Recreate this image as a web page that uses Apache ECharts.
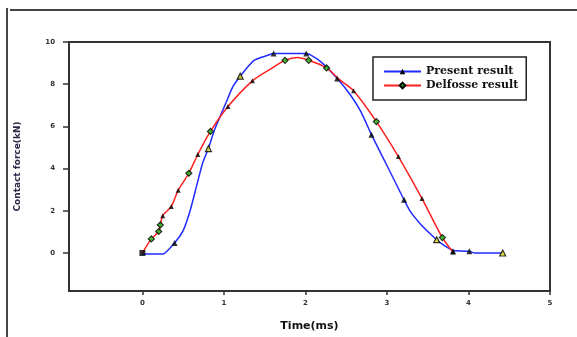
<!DOCTYPE html>
<html>
<head>
<meta charset="utf-8">
<script src="https://cdn.jsdelivr.net/npm/echarts@6/dist/echarts.min.js"></script>
<style>html,body{margin:0;padding:0;background:#fff}#c{width:577px;height:337px}</style>
</head>
<body>
<div id="c"></div>
<script>
// ---- data ----
const xTicks = [0, 1, 2, 3, 4, 5];
const yTicks = [0, 2, 4, 6, 8, 10];

const presentTime  = [0, 0.25, 0.395, 0.5, 0.58, 0.66, 0.74, 0.81, 0.885, 0.99, 1.05, 1.11, 1.2, 1.37, 1.54, 1.61, 2.01, 2.19, 2.39, 2.55, 2.68, 2.81, 2.98, 3.13, 3.21, 3.29, 3.41, 3.53, 3.61, 3.70, 3.78, 3.81, 4.01, 4.08, 4.42];
const presentForce = [-0.05, -0.05, 0.48, 1.06, 1.93, 3.1, 4.28, 4.95, 5.84, 6.8, 7.35, 7.88, 8.38, 9.13, 9.37, 9.45, 9.45, 9.06, 8.27, 7.5, 6.7, 5.61, 4.3, 3.14, 2.52, 1.95, 1.38, 0.91, 0.63, 0.36, 0.18, 0.12, 0.08, 0, 0];

const delfosseTime  = [0, 0.11, 0.2, 0.22, 0.25, 0.355, 0.44, 0.57, 0.68, 0.835, 1.05, 1.35, 1.58, 1.75, 1.9, 2.04, 2.26, 2.41, 2.59, 2.87, 3.14, 3.43, 3.68, 3.81];
const delfosseForce = [0, 0.67, 1.02, 1.33, 1.77, 2.21, 2.98, 3.78, 4.67, 5.76, 6.94, 8.16, 8.74, 9.13, 9.26, 9.13, 8.77, 8.24, 7.69, 6.23, 4.57, 2.58, 0.73, 0.05];

// markers on the present curve (black triangles / yellow-filled triangles)
const presentMarkT = [0.395, 1.61, 2.01, 2.39, 2.81, 3.21, 3.81, 4.01];
const presentMarkF = [0.48, 9.45, 9.45, 8.27, 5.61, 2.52, 0.08, 0.08];
const presentYellowT = [0.81, 1.2, 3.61, 4.42];
const presentYellowF = [4.95, 8.38, 0.63, 0];
// markers on the Delfosse curve
const delfosseGreenT = [0.11, 0.2, 0.22, 0.57, 0.835, 1.75, 2.04, 2.26, 2.87, 3.68];
const delfosseGreenF = [0.67, 1.02, 1.33, 3.78, 5.76, 9.13, 9.13, 8.77, 6.23, 0.73];
const delfosseBlackT = [0.25, 0.355, 0.44, 0.68, 1.05, 1.35, 2.59, 3.14, 3.43, 3.81];
const delfosseBlackF = [1.77, 2.21, 2.98, 4.67, 6.94, 8.16, 7.69, 4.57, 2.58, 0.05];
const startT = [0];
const startF = [0];

const zip = (a, b) => a.map((v, i) => [v, b[i]]);

const chart = echarts.init(document.getElementById('c'), null, {renderer: 'canvas'});
chart.setOption({
  animation: false,
  backgroundColor: '#fff',
  grid: {left: 69, right: 27, top: 42, bottom: 44, show: true, borderColor: '#333', borderWidth: 2},
  legend: {
    left: 373, top: 57, orient: 'vertical',
    itemWidth: 37, itemHeight: 7, itemGap: 3,
    padding: [9, 8, 9, 10],
    borderColor: '#222', borderWidth: 1.5, backgroundColor: '#fff',
    textStyle: {fontFamily: 'DejaVu Serif', fontWeight: 'bold', fontSize: 11, color: '#111'},
    data: ['Present result', 'Delfosse result']
  },
  xAxis: {
    type: 'value', min: -0.9, max: 5,
    name: 'Time(ms)', nameLocation: 'middle', nameGap: 30,
    nameTextStyle: {fontFamily: 'DejaVu Sans', fontWeight: 'bold', fontSize: 11, color: '#111'},
    axisLine: {show: true, onZero: false, lineStyle: {color: '#333', width: 2}},
    axisTick: {show: true, inside: false, length: 4, customValues: xTicks, lineStyle: {color: '#333', width: 1.5}},
    axisLabel: {customValues: xTicks, margin: 9, fontFamily: 'DejaVu Sans', fontWeight: 'bold', fontSize: 7, color: '#333'},
    splitLine: {show: false}
  },
  yAxis: {
    type: 'value', min: -1.8, max: 10,
    name: 'Contact force(kN)', nameLocation: 'middle', nameGap: 47, nameRotate: 90,
    nameTextStyle: {fontFamily: 'DejaVu Sans', fontWeight: 'bold', fontSize: 9, color: '#2a2a48'},
    axisLine: {show: true, onZero: false, lineStyle: {color: '#333', width: 2}},
    axisTick: {show: true, inside: false, length: 6, customValues: yTicks, lineStyle: {color: '#333', width: 1.5}},
    axisLabel: {customValues: yTicks, margin: 14, fontFamily: 'DejaVu Sans', fontWeight: 'bold', fontSize: 7, color: '#333'},
    splitLine: {show: false}
  },
  graphic: [
    {type: 'line', shape: {x1: 7, y1: 8, x2: 7, y2: 337}, style: {stroke: '#444', lineWidth: 2}, silent: true},
    {type: 'line', shape: {x1: 10, y1: 10, x2: 577, y2: 10}, style: {stroke: '#444', lineWidth: 2}, silent: true}
  ],
  series: [
    {
      name: 'Present result', type: 'line', data: zip(presentTime, presentForce),
      smooth: 0.2, symbol: 'triangle', symbolSize: 6, showSymbol: false,
      lineStyle: {color: '#1f2bff', width: 1.5}, itemStyle: {color: '#000'}, z: 2
    },
    {
      name: 'Delfosse result', type: 'line', data: zip(delfosseTime, delfosseForce),
      smooth: 0.3, symbol: 'diamond', symbolSize: 6, showSymbol: false,
      lineStyle: {color: '#ff2020', width: 1.5}, itemStyle: {color: '#1fc41f', borderColor: '#000', borderWidth: 1}, z: 3
    },
    {type: 'scatter', data: zip(presentMarkT, presentMarkF), symbol: 'triangle', symbolSize: 6, itemStyle: {color: '#000'}, z: 4},
    {type: 'scatter', data: zip(presentYellowT, presentYellowF), symbol: 'triangle', symbolSize: 6, itemStyle: {color: '#e8e020', borderColor: '#000', borderWidth: 1.2}, z: 4},
    {type: 'scatter', data: zip(delfosseGreenT, delfosseGreenF), symbol: 'diamond', symbolSize: 6, itemStyle: {color: '#1fc41f', borderColor: '#000', borderWidth: 1.2}, z: 4},
    {type: 'scatter', data: zip(delfosseBlackT, delfosseBlackF), symbol: 'triangle', symbolSize: 5, itemStyle: {color: '#000'}, z: 4},
    {type: 'scatter', data: zip(startT, startF), symbol: 'rect', symbolSize: 6, itemStyle: {color: '#000'}, z: 4}
  ]
});
</script>
</body>
</html>
